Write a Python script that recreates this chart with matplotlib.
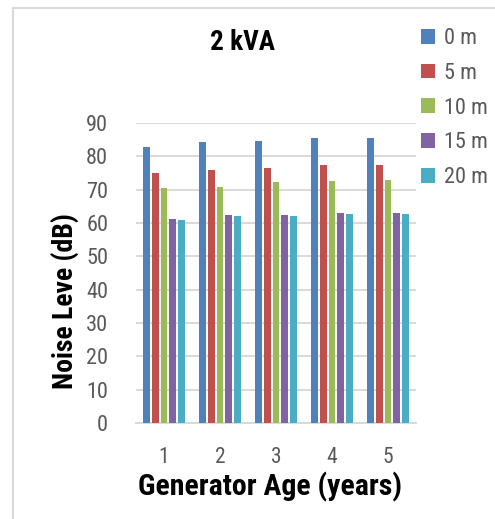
import matplotlib
matplotlib.use("Agg")
import matplotlib.pyplot as plt
from matplotlib.patches import Patch
from matplotlib.lines import Line2D
import numpy as np

categories = ["1", "2", "3", "4", "5"]
series_names = ["0 m", "5 m", "10 m", "15 m", "20 m"]
values_0m = [82.8, 84.4, 84.7, 85.4, 85.4]
values_5m = [75.0, 76.0, 76.6, 77.4, 77.3]
values_10m = [70.6, 70.8, 72.4, 72.7, 73.0]
values_15m = [61.2, 62.4, 62.5, 63.0, 63.0]
values_20m = [60.8, 62.0, 62.2, 62.8, 62.8]
colors = ["#4F81BD", "#C0504D", "#9BBB59", "#8064A2", "#4BACC6"]
yticks = [0, 10, 20, 30, 40, 50, 60, 70, 80, 90]

all_series = [values_0m, values_5m, values_10m, values_15m, values_20m]

cond = ["Roboto Condensed", "Liberation Sans", "DejaVu Sans"]
tickfont = ["Roboto Condensed", "Roboto", "DejaVu Sans"]
gray = "#595959"

fig = plt.figure(figsize=(4.95, 5.19), dpi=100)
ax = fig.add_axes([136/495, 1-423/519, 280/495, 300/519])

x = np.arange(1, len(categories)+1)
stride = 0.155
width = 0.12
for i, (vals, c) in enumerate(zip(all_series, colors)):
    ax.bar(x + (i-2)*stride, vals, width=width, color=c, zorder=3)

ax.set_xlim(0.5, 5.5)
ax.set_ylim(0, 90)
ax.set_yticks(yticks)
ax.set_xticks(x)
ax.set_xticklabels(categories)
ax.grid(axis="y", color="#d9d9d9", linewidth=1.4, zorder=0)
for s in ["top", "right", "left"]:
    ax.spines[s].set_visible(False)
ax.spines["bottom"].set_color("#d9d9d9")
ax.spines["bottom"].set_linewidth(1.4)
ax.tick_params(axis="both", length=0, colors=gray, labelsize=16)
ax.tick_params(axis="x", labelsize=15.5)
ax.tick_params(axis="y", pad=20)
ax.tick_params(axis="x", pad=17)
for lab in ax.get_xticklabels() + ax.get_yticklabels():
    lab.set_family(tickfont)

ax.set_xlabel("Generator Age (years)", fontsize=21.5, fontweight="bold",
              family=cond, color="black")
ax.xaxis.set_label_coords((270-136)/280, (423-472)/300)
ax.set_ylabel("Noise Leve (dB)", fontsize=20, fontweight="bold",
              family=cond, color="black")
ax.yaxis.set_label_coords((79-136)/280, (423-301)/300)

fig.text(242/495, 1-42/519, "2 kVA", ha="center", va="center",
         fontsize=19.5, fontweight="bold", family=cond, color="black")

handles = [Patch(facecolor=c, edgecolor="none") for c in colors]
leg = fig.legend(handles, series_names, loc="upper left",
                 bbox_to_anchor=(421/495, 1-28/519), frameon=False,
                 handlelength=0.65, handleheight=0.65, handletextpad=0.4,
                 labelspacing=0.62, prop={"family": tickfont, "size": 16},
                 borderaxespad=0, borderpad=0)
for t in leg.get_texts():
    t.set_color(gray)

# chart border (top and left)
fig.add_artist(Line2D([13/495, 1], [1-8/519, 1-8/519], color="#d9d9d9", linewidth=1.5))
fig.add_artist(Line2D([13/495, 13/495], [0, 1-8/519], color="#d9d9d9", linewidth=1.5))

fig.savefig("out.png", dpi=100)
